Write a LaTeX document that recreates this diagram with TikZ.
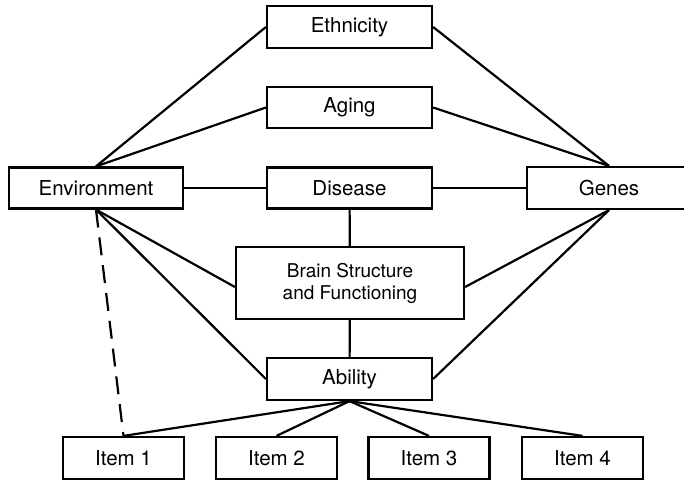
\documentclass[tikz,border=0pt]{standalone}
\usepackage{fontspec}
\setmainfont{TeX Gyre Heros}

\begin{document}
\begin{tikzpicture}[x=1pt,y=-1pt,line width=2.2pt,
    box/.style={draw,inner sep=0pt,minimum width=165pt,minimum height=42pt,
      font=\fontsize{20.5}{24}\selectfont},
    item/.style={box,minimum width=121pt}]
  \clip (0,0) rectangle (684,481);
  %factors
  \node[box] (eth) at (349.5,27) {Ethnicity};
  \node[box,minimum height=41pt] (age) at (349.5,107.5) {Aging};
  \node[box,minimum width=174pt,minimum height=41pt] (env) at (96,188) {Environment};
  \node[box,minimum height=41pt] (dis) at (349.5,188) {Disease};
  \node[box,minimum width=164pt] (gen) at (609,188) {Genes};
  \node[box,minimum width=228pt,minimum height=72pt,align=center,
    font=\fontsize{19}{22}\selectfont] (brain) at (350,283) {Brain Structure\\and Functioning};
  \node[box] (abil) at (349.5,379) {Ability};
  \foreach \i/\x in {1/123.5,2/276.5,3/429,4/582.5}
    \node[item] (item\i) at (\x,458) {Item \i};
  %links
  \draw (env.north) -- (eth.west);
  \draw (env.north) -- (age.west);
  \draw (gen.north) -- (eth.east);
  \draw (gen.north) -- (age.east);
  \draw (env) -- (dis) -- (gen);
  \draw (dis) -- (brain) -- (abil);
  \draw (env.south) -- ([yshift=-4pt]brain.west);
  \draw (env.south) -- (abil.west);
  \draw (gen.south) -- ([yshift=-4pt]brain.east);
  \draw (gen.south) -- (abil.east);
  \foreach \i in {1,...,4}
    \draw (abil.south) -- (item\i.north);
  %dashed link
  \draw[dash pattern=on 18pt off 10pt] (env.south) -- (item1.north);
\end{tikzpicture}
\end{document}
